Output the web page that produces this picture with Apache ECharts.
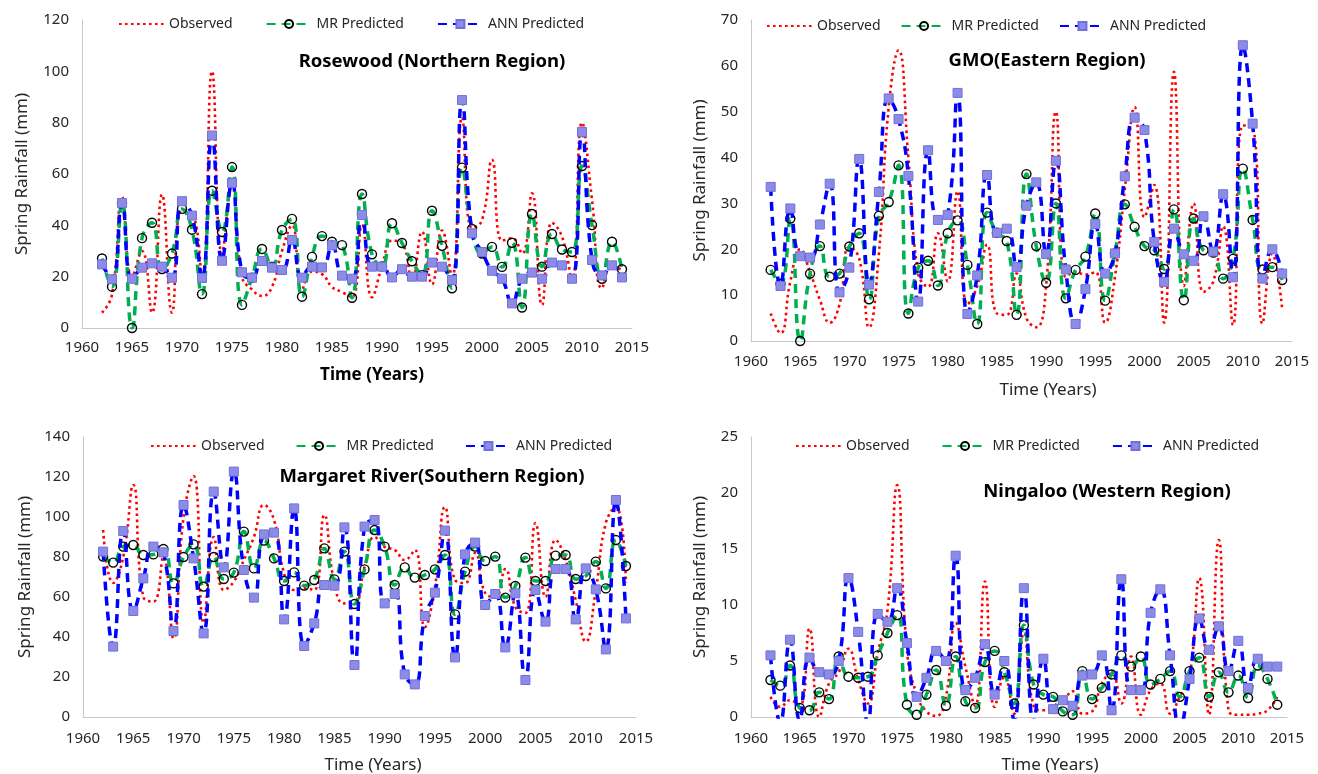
<!DOCTYPE html>
<html>
<head>
<meta charset="utf-8">
<title>Spring Rainfall - Observed vs MR vs ANN</title>
<script src="https://cdn.jsdelivr.net/npm/echarts@6/dist/echarts.min.js"></script>
<style>
    html, body { margin: 0; padding: 0; background: #fff; }
    #main { width: 1318px; height: 774px; }
</style>
</head>
<body>
<div id="main"></div>
<script type="text/javascript">
    // years 1962 - 2014
    var years = [];
    for (var yr = 1962; yr <= 2014; yr++) years.push(yr);

    var seriesNames = ['Observed', 'MR Predicted', 'ANN Predicted'];
    var panelTitles = ['Rosewood (Northern Region)', 'GMO(Eastern Region)', 'Margaret River(Southern Region)', 'Ningaloo (Western Region)'];
    var yMax = [120, 70, 140, 25];
    var yStep = [20, 10, 20, 5];

    // Rosewood (Northern)
    var rosewoodObs = [6, 13, 51, 20, 30, 6, 52, 6, 46, 45, 20, 100, 29, 56, 20, 15, 12.5, 16, 30, 40,
        15, 22, 21, 16, 14, 12, 40, 12, 24, 34, 33, 19, 37.5, 17, 38, 20, 82, 39, 42, 65.5,
        34, 35, 29, 52.5, 9, 41, 35.6, 18.7, 80, 50, 15.5, 24, 22.6];
    var rosewoodMR = [27.1, 16.1, 48.7, 0, 35, 41, 23, 29, 46.4, 38.3, 13.2, 53.5, 37.4, 62.7, 9, 19.6, 30.8, 23.9, 38.2, 42.5,
        12.2, 27.7, 35.8, 33.6, 32.3, 11.8, 52.2, 28.7, 24, 40.8, 33.1, 26, 20.6, 45.7, 32, 15.5, 62.5, 38.6, 29, 31.6,
        23.8, 33.2, 8, 44.4, 23.9, 36.6, 30.6, 29.6, 63.1, 40.1, 19.2, 33.6, 22.9];
    var rosewoodANN = [24.8, 19, 48.7, 19.2, 23.5, 25.2, 23.9, 19.6, 49.4, 43.8, 19.5, 75, 26.2, 56.5, 21.7, 19.6, 26.1, 23.5, 22.6, 34.3,
        19.6, 23.9, 23.6, 32.2, 20.4, 19.2, 44, 23.9, 23.9, 19.7, 22.9, 20, 20, 25.5, 23.9, 18.7, 88.8, 36.9, 29.6, 22.3,
        19.2, 9.6, 19.2, 21.6, 19.2, 25.5, 24.4, 19.2, 76.4, 26.5, 20.5, 24.4, 19.7];

    // GMO (Eastern)
    var gmoObs = [6, 1.7, 13, 20, 15, 9, 4, 8, 20.5, 18, 3, 19, 51, 63.4, 40, 14.7, 11.8, 23.5, 13, 32.7,
        8, 12, 21, 6, 5.7, 14.7, 5, 3, 12, 50, 14, 15, 14.5, 15, 4, 14, 33, 51, 27, 34,
        4, 58.7, 12, 30, 10.7, 13, 25, 3.5, 47, 46.7, 3.8, 19, 7];
    var gmoMR = [15.5, 12.5, 26.7, 0, 14.7, 20.7, 14, 14.7, 20.6, 23.5, 9.1, 27.3, 30.3, 38.3, 6, 16, 17.5, 12.1, 23.5, 26.3,
        16.6, 3.7, 28, 23.6, 21.8, 5.7, 36.4, 20.7, 12.7, 30, 9.3, 15.5, 18.4, 27.8, 8.8, 19.1, 29.8, 24.9, 20.7, 19.8,
        15.7, 28.7, 8.9, 26.7, 19.8, 19.3, 13.6, 17.9, 37.6, 26.4, 15.6, 16.1, 13.3];
    var gmoANN = [33.6, 12, 28.9, 18.5, 18.2, 25.4, 34.3, 10.6, 16, 39.7, 12.3, 32.5, 52.9, 48.4, 36, 8.6, 41.6, 26.4, 27.5, 54.1,
        5.9, 14.3, 36.2, 23.6, 24.5, 16.1, 29.5, 34.6, 19, 39.3, 15.6, 3.7, 11.3, 25.5, 14.7, 19.1, 35.9, 48.7, 46, 21.6,
        12.9, 24.5, 18.9, 17.5, 27.2, 19.5, 32, 13.9, 64.5, 47.4, 13.6, 20, 14.7];

    // Margaret River (Southern)
    var margaretObs = [93.5, 67, 80, 116, 60, 57.7, 80, 39.3, 100, 120.5, 47, 90, 63.5, 67.7, 78.5, 90, 106, 98.5, 71.8, 63.5,
        64.3, 63.5, 101, 66.8, 56.8, 57, 75, 90, 85, 83.5, 78.5, 83.5, 45, 65, 105, 68.5, 67, 82, 62, 60,
        74, 55, 52, 97, 60, 88.5, 78.5, 58.5, 37.7, 63.5, 97, 105, 67];
    var margaretMR = [80.2, 77.2, 85.2, 86, 81, 81.3, 84, 66.8, 80, 86.3, 65.2, 80, 69, 72.2, 92.7, 74.3, 88.2, 79.3, 68, 72.3,
        65.7, 68.5, 84.3, 68.8, 82.7, 56.5, 73.8, 93.5, 85.2, 66, 74.8, 69.7, 71, 73.8, 81, 51.3, 72.7, 85.2, 78, 80.2,
        59.7, 65.5, 79.7, 68, 68, 80.7, 81, 69, 70.5, 77.7, 64.3, 88.5, 75.5];
    var margaretANN = [82.7, 35.2, 93, 53, 69.3, 85.2, 82.3, 43, 106, 79.3, 41.8, 112.7, 74.8, 122.7, 73.5, 59.7, 91.3, 92.2, 48.8, 104.3,
        35.5, 46.8, 66, 65.7, 94.8, 26, 95.2, 98.5, 56.8, 61.5, 21.3, 16.3, 50.5, 62.2, 93.2, 29.8, 81.3, 87.2, 56, 61.5,
        34.8, 61.8, 18.5, 63.5, 47.7, 74, 74, 48.8, 74.3, 63.8, 33.8, 108.5, 49.3];

    // Ningaloo (Western)
    var ningalooObs = [1.8, 0.9, 1.5, 1, 7.9, 0, 3, 4, 6.1, 3.3, 1.2, 5.7, 9.5, 20.7, 6, 2, 0.5, 0.1, 1.8, 8.4,
        4.5, 1, 12.1, 0.9, 3.6, 0.3, 7.5, 1, 0.6, 0.9, 1.5, 2.3, 0.3, 0.5, 3, 3.9, 1.2, 5.4, 0.2, 2.4,
        3, 0.3, 1.8, 3.6, 12.4, 0.2, 15.8, 0.6, 0.2, 0.2, 0.3, 0.6, 1.8];
    var ningalooMR = [3.3, 2.8, 4.6, 0.8, 0.6, 2.2, 1.6, 5.4, 3.6, 3.5, 3.6, 5.5, 7.5, 9.1, 1.1, 0.2, 2, 4.2, 1, 5.4,
        1.4, 0.8, 4.9, 5.9, 4, 1.2, 8.2, 2.9, 2, 1.8, 0.5, 0.2, 4.1, 1.6, 2.6, 3.8, 5.5, 4.5, 5.4, 2.9,
        3.4, 4.1, 1.8, 4.1, 5.3, 1.8, 4, 2.2, 3.7, 1.7, 4.6, 3.4, 1.1];
    var ningalooANN = [5.5, -0.5, 6.9, -0.3, 5.3, 4, 3.8, 5, 12.4, 7.6, -0.5, 9.2, 8.5, 11.5, 6.6, 1.8, 3.5, 5.9, 5, 14.4,
        2.4, 3.5, 6.5, 2, 5, -0.3, 11.5, -0.5, 5.2, 0.7, 1.5, 1, 3.7, 3.8, 5.5, 0.6, 12.3, 2.4, 2.4, 9.3,
        11.4, 5.5, -1, 3.4, 8.8, 6, 8.1, 4.1, 6.8, 2.6, 5.2, 4.5, 4.5];

    var panelData = [
        [rosewoodObs, rosewoodMR, rosewoodANN],
        [gmoObs, gmoMR, gmoANN],
        [margaretObs, margaretMR, margaretANN],
        [ningalooObs, ningalooMR, ningalooANN]
    ];

    var FONT = '"Noto Sans", "DejaVu Sans", sans-serif';
    var TXT = '#262626';

    var grids = [
        {left: 82, top: 20, width: 550, height: 308},
        {left: 751, top: 20, width: 541, height: 321},
        {left: 83, top: 437, width: 553, height: 280},
        {left: 751, top: 437, width: 536, height: 280}
    ];
    var titlePos = [[432, 52], [1047, 51], [432, 467], [1107, 482]];
    var legendPos = [[118, 17, 33], [766, 19, 20], [150, 439, 31], [795, 439, 32]];
    var yNameGap = [51, 42, 49, 42];
    var xLabelMargin = [12, 13, 14, 14];
    var xNamePos = [[372, 375, 'bold'], [1048, 390, 'normal'], [373, 765, 'normal'], [1050, 765, 'normal']];

    function pairs(vals) {
        return vals.map(function (v, i) { return [years[i], v]; });
    }

    var styles = [
        {
            symbol: 'none',
            lineStyle: {color: '#ff0000', width: 2.6, type: [2.6, 3.4]},
            itemStyle: {color: '#ff0000'},
            z: 2
        },
        {
            symbol: 'circle', symbolSize: 9,
            lineStyle: {color: '#00b050', width: 3.5, type: [9, 6]},
            itemStyle: {color: 'rgba(255,255,255,0)', borderColor: '#000', borderWidth: 1.4},
            z: 3
        },
        {
            symbol: 'rect', symbolSize: 9,
            lineStyle: {color: '#0000ff', width: 3.5, type: [9, 6]},
            itemStyle: {color: '#8c8ce6', borderColor: '#7070dc', borderWidth: 1},
            z: 4
        }
    ];

    var legendItems = [
        {name: 'Observed', itemStyle: {opacity: 0}},
        {name: 'MR Predicted'},
        {name: 'ANN Predicted'}
    ];

    var xAxes = [], yAxes = [], series = [], titles = [], legends = [], texts = [];
    for (var p = 0; p < 4; p++) {
        xAxes.push({
            type: 'value', gridIndex: p, min: 1960, max: 2015, interval: 5,
            axisLine: {lineStyle: {color: '#c8c8c8', width: 1}},
            axisTick: {show: false},
            splitLine: {show: false},
            axisLabel: {color: TXT, fontSize: 15, fontFamily: FONT, margin: xLabelMargin[p],
                formatter: function (v) { return String(v); }}
        });
        yAxes.push({
            type: 'value', gridIndex: p, min: 0, max: yMax[p], interval: yStep[p],
            name: 'Spring Rainfall (mm)', nameLocation: 'middle', nameGap: yNameGap[p],
            nameTextStyle: {color: TXT, fontSize: 17, fontFamily: FONT},
            axisLine: {show: true, lineStyle: {color: '#c8c8c8', width: 1}},
            axisTick: {show: false},
            splitLine: {show: false},
            axisLabel: {color: TXT, fontSize: 15, fontFamily: FONT, margin: 13}
        });
        for (var s = 0; s < 3; s++) {
            var st = styles[s];
            series.push({
                name: seriesNames[s], type: 'line', xAxisIndex: p, yAxisIndex: p,
                smooth: 0.5, symbol: st.symbol, symbolSize: st.symbolSize,
                showSymbol: st.symbol !== 'none',
                lineStyle: st.lineStyle, itemStyle: st.itemStyle, z: st.z,
                data: pairs(panelData[p][s])
            });
        }
        titles.push({
            text: panelTitles[p], left: titlePos[p][0], top: titlePos[p][1], textAlign: 'center', padding: 0,
            textStyle: {color: '#000', fontSize: 18.5, fontWeight: 'bold', fontFamily: FONT}
        });
        legends.push({
            data: legendItems, left: legendPos[p][0], top: legendPos[p][1], padding: 0,
            itemWidth: 45, itemHeight: 10, itemGap: legendPos[p][2],
            textStyle: {color: TXT, fontSize: 14, fontFamily: FONT}
        });
        texts.push({
            type: 'text', x: xNamePos[p][0], y: xNamePos[p][1],
            style: {text: 'Time (Years)', align: 'center', verticalAlign: 'middle',
                fill: xNamePos[p][2] === 'bold' ? '#000' : TXT,
                font: xNamePos[p][2] + ' 17px ' + FONT}
        });
    }

    var chart = echarts.init(document.getElementById('main'));
    chart.setOption({
        backgroundColor: '#fff',
        animation: false,
        title: titles,
        legend: legends,
        grid: grids,
        xAxis: xAxes,
        yAxis: yAxes,
        graphic: texts,
        series: series
    });
</script>
</body>
</html>
